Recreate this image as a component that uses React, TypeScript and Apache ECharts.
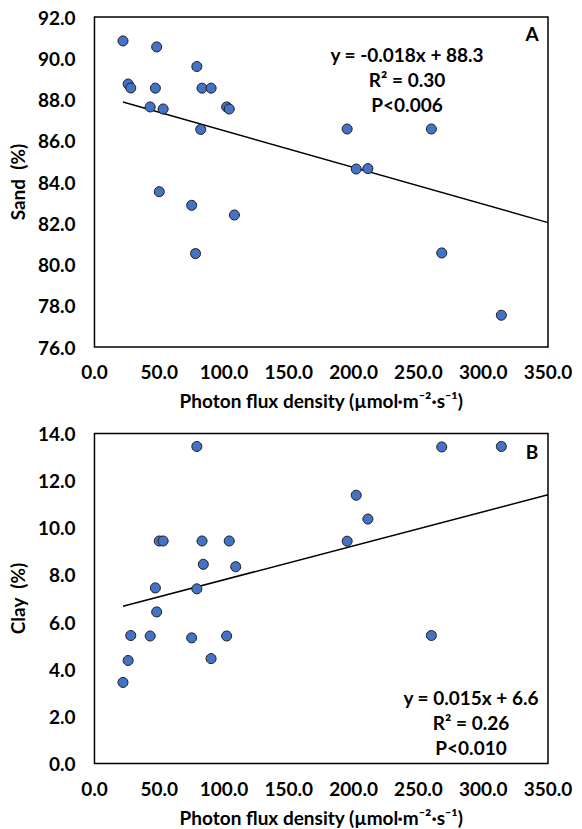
import React, { useEffect, useRef } from "react";
import * as echarts from "echarts";

const sandX = [22, 26, 28, 43, 47, 48, 50, 53, 75, 78, 79, 82, 83, 90, 102, 104, 108, 195, 202, 211, 260, 268, 314];
const sandY = [90.84, 88.75, 88.56, 87.64, 88.55, 90.55, 83.53, 87.54, 82.87, 80.53, 89.6, 86.55, 88.55, 88.55, 87.64, 87.54, 82.4, 86.57, 84.63, 84.65, 86.57, 80.56, 77.54];

const clayX = [22, 26, 28, 43, 47, 48, 50, 53, 75, 79, 79, 83, 84, 90, 102, 104, 109, 195, 202, 211, 260, 268, 314];
const clayY = [3.44, 4.37, 5.43, 5.41, 7.45, 6.43, 9.44, 9.44, 5.33, 13.45, 7.41, 9.44, 8.45, 4.45, 5.41, 9.44, 8.35, 9.43, 11.38, 10.37, 5.43, 13.43, 13.45];

const sandTrendX = [22, 350];
const sandTrendY = [87.88, 82.03];
const clayTrendX = [22, 350];
const clayTrendY = [6.67, 11.4];

const sandLabels = ["y = -0.018x + 88.3", "R² = 0.30", "P<0.006"];
const clayLabels = ["y = 0.015x + 6.6", "R² = 0.26", "P<0.010"];

const xTitle = "Photon flux density (µmol·m⁻²·s⁻¹)";
const FONT = "Lato, 'Open Sans', sans-serif";
const FS = 19;

export default function App() {
  const ref = useRef<HTMLDivElement>(null);
  useEffect(() => {
    if (!ref.current) return;
    const chart = echarts.init(ref.current, null, { renderer: "svg" });
    const text = { fontFamily: FONT, fontWeight: "bold" as const, fontSize: FS, color: "#000" };
    const gridBox = { left: 93, width: 455, height: 330, show: true, borderColor: "#000", borderWidth: 1.5, backgroundColor: "transparent" };
    const xAxisBase = (gi: number) => ({
      type: "value" as const,
      gridIndex: gi,
      min: 0,
      max: 350,
      interval: 50,
      axisLine: { show: false },
      axisTick: { show: false },
      splitLine: { show: false },
      axisLabel: { ...text, margin: 15, formatter: (v: number) => v.toFixed(1) },
      name: xTitle,
      nameLocation: "middle" as const,
      nameGap: 44,
      nameTextStyle: { ...text },
    });
    const yAxisBase = (gi: number, min: number, max: number, name: string) => ({
      type: "value" as const,
      gridIndex: gi,
      min,
      max,
      interval: 2,
      axisLine: { show: false },
      axisTick: { show: false },
      splitLine: { show: false },
      axisLabel: { ...text, margin: 19, formatter: (v: number) => v.toFixed(1) },
      name,
      nameLocation: "middle" as const,
      nameGap: 58,
      nameTextStyle: { ...text },
    });
    const scatterStyle = { color: "#4472C4", borderColor: "#1a1a1a", borderWidth: 1, opacity: 1 };
    const annot = (lines: string[], cx: number, y0: number) =>
      lines.map((t, i) => ({
        type: "text",
        x: cx,
        y: y0 + i * 25,
        style: { text: t, fill: "#000", font: `bold ${FS}px ${FONT}`, textAlign: "center", textVerticalAlign: "middle" },
      }));
    chart.setOption({
      animation: false,
      grid: [
        { ...gridBox, top: 17 },
        { ...gridBox, top: 433.5 },
      ],
      xAxis: [xAxisBase(0), xAxisBase(1)],
      yAxis: [yAxisBase(0, 76, 92, "Sand\u00a0\u00a0(%)"), yAxisBase(1, 0, 14, "Clay\u00a0\u00a0(%)")],
      series: [
        {
          type: "scatter",
          xAxisIndex: 0,
          yAxisIndex: 0,
          symbolSize: 10,
          itemStyle: scatterStyle,
          data: sandX.map((x, i) => [x, sandY[i]]),
          z: 3,
        },
        {
          type: "line",
          xAxisIndex: 0,
          yAxisIndex: 0,
          symbol: "none",
          lineStyle: { color: "#000", width: 1.5 },
          data: sandTrendX.map((x, i) => [x, sandTrendY[i]]),
          z: 2,
        },
        {
          type: "scatter",
          xAxisIndex: 1,
          yAxisIndex: 1,
          symbolSize: 10,
          itemStyle: scatterStyle,
          data: clayX.map((x, i) => [x, clayY[i]]),
          z: 3,
        },
        {
          type: "line",
          xAxisIndex: 1,
          yAxisIndex: 1,
          symbol: "none",
          lineStyle: { color: "#000", width: 1.5 },
          data: clayTrendX.map((x, i) => [x, clayTrendY[i]]),
          z: 2,
        },
      ],
      graphic: [
        ...annot(sandLabels, 407, 54),
        ...annot(clayLabels, 471, 697),
        {
          type: "text",
          x: 532,
          y: 33,
          style: { text: "A", fill: "#000", font: `bold ${FS}px ${FONT}`, textAlign: "center", textVerticalAlign: "middle" },
        },
        {
          type: "text",
          x: 532,
          y: 451,
          style: { text: "B", fill: "#000", font: `bold ${FS}px ${FONT}`, textAlign: "center", textVerticalAlign: "middle" },
        },
      ],
    });
    return () => chart.dispose();
  }, []);
  return <div ref={ref} style={{ position: "fixed", left: 0, top: 0, width: 582, height: 829, background: "#fff" }} />;
}
